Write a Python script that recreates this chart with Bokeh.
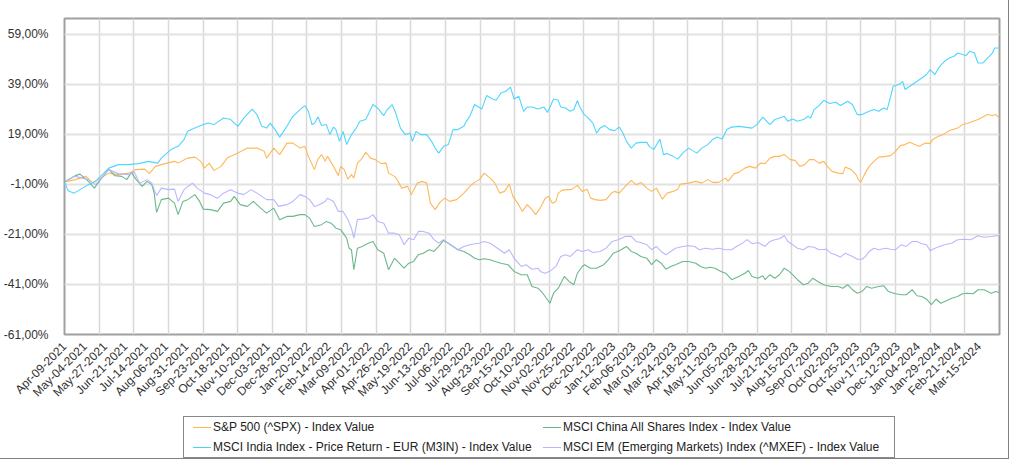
import html
import numpy as np
from bokeh.plotting import figure
from bokeh.layouts import column
from bokeh.models import Range1d, FixedTicker, Div
from bokeh.embed import file_html
from bokeh.resources import INLINE

# ---- data: (trading-day index from Apr-09-2021, % change) ----
SP500 = [(0,0),(9,0.9),(18,2.2),(23,-0.3),(29,1.1),(37,3.5),(45,2.9),(54,3.5),(59,4.9),(67,5.1),(71,3.3),(76,6.2),(84,7.3),(92,8.2),(95,7.5),(103,9.5),(109,9.9),(114,8.2),(117,5.5),(121,7.5),(125,4.6),(131,6.2),(136,9.5),(145,11.5),(153,13.5),(161,13.5),(167,12.2),(169,9.5),(175,13.5),(180,10.9),(186,15.5),(191,15.5),
(197,13.5),(201,14.2),(204,10.2),(209,4.9),(212,9.1),(215,10.9),(218,8.2),(220,10.2),(225,6.2),(229,2.5),(231,6.2),(234,4.9),(237,1.1),(240,2.9),(242,1.5),(245,7.5),(248,8.9),(252,11.8),(256,9.5),(260,8.9),(265,7.3),(269,7.5),(271,3.5),(276,2.2),(278,1.1),(282,-2.5),(287,-1.8),(290,-5.1),(295,-0.5),(299,0.2),(303,-0.5),(306,-8.5),(310,-11.1),(314,-8.2),(318,-6.5),(322,-7.8),(328,-7.1),(334,-4.5),(339,-1.8),(343,-0.2),(347,0.9),(351,3.5),(356,1.5),(360,-0.5),(364,-4.5),(368,-3.8),(372,-0.9),(375,-5.8),(379,-8.5),(383,-11.8),(387,-9.1),
(391,-11.1),(394,-13.1),(397,-11.1),(400,-8.5),(402,-6.5),(405,-5.8),(408,-8.5),(411,-7.8),(413,-4.5),(416,-3.4),(420,-3.1),(424,-3.1),(429,-1.4),(433,-3.8),(437,-2.9),(440,-6.5),(444,-7.1),(448,-7.4),(453,-7.1),(458,-4.2),(460,-3.8),(464,-4.5),(469,-1.8),(474,0.6),(478,-1.1),(482,-0.2),(487,-2.5),(491,-3.8),(495,-2.5),(500,-6.9),(504,-4.5),(509,-3.8),(513,-2.9),(515,-0.9),(522,-0.5),(528,0.2),(533,-0.5),(538,0.9),(542,-0.2),(547,-0.2),(553,1.5),(555,0.2),(560,3.3),(564,3.8),(569,5.5),(573,6.2),(578,5.5),(582,7.5),
(586,7.3),(590,9.5),(594,10.2),(598,10.2),(602,10.9),(607,8.9),(611,8.6),(615,6.2),(619,6.9),(623,8.9),(627,8.9),(631,7.5),(635,8.2),(638,6.2),(642,4.2),(647,3.5),(651,3.3),(653,5.9),(658,4.9),(662,2.9),(664,0.9),(666,-0.2),(669,2.9),(673,6.2),(677,8.2),(681,9.9),(687,10.2),(691,10.5),(695,12.2),(699,14.5),(703,14.9),(707,15.8),(711,14.9),(715,14.2),(720,15.5),(724,15.3),(726,16.9),(731,18.2),(735,18.9),(739,20.2),(743,20.9),(747,21.5),(751,22.9),(755,23.3),(760,24.2),(764,24.9),(768,25.9),(772,26.9),(776,26.5),(779,26.9),(782,25.5)]

CHINA = [(0,0),(9,2.5),(13,3.1),(20,0.2),(25,-2.5),(29,0.2),(37,5.1),(42,2.5),(48,2.2),(52,0.9),(56,3.8),(60,0.9),(65,-1.8),(69,0.2),(73,-1.1),(75,-4.5),(77,-12.2),(81,-7.1),(87,-6.5),(92,-8.5),(95,-13.1),(99,-7.8),(103,-7.1),(109,-5.1),(113,-7.8),(116,-10.9),(122,-11.1),(128,-11.8),(133,-8.5),(139,-7.8),(142,-5.8),(147,-9.1),(153,-9.8),(158,-7.8),(164,-10.5),(169,-12.5),(175,-10.5),(180,-15.1),(186,-13.8),(191,-13.8),
(197,-13.1),(201,-13.1),(205,-14.5),(209,-17.8),(215,-17.1),(219,-15.8),(223,-16.5),(227,-18.5),(231,-19.1),(236,-22.5),(238,-26.5),(240,-27.1),(242,-35.1),(245,-26.5),(249,-25.8),(254,-24.5),(258,-23.8),(262,-27.1),(267,-28.5),(271,-35.1),(276,-30.5),(280,-32.5),(284,-34.5),(288,-32.5),(292,-31.8),(296,-29.1),(300,-28.5),(305,-27.1),(309,-27.8),(313,-25.8),(317,-23.4),(321,-24.5),(325,-25.8),(329,-27.1),(334,-27.8),(339,-29.1),(343,-30.5),(347,-31.1),(351,-30.7),(356,-31.1),(360,-31.8),(365,-32.5),(371,-33.1),(376,-35.8),(382,-37.1),(387,-37.1),
(391,-41.8),(396,-42.5),(400,-44.5),(402,-45.8),(406,-48.5),(409,-44.5),(413,-42.5),(418,-37.8),(422,-39.8),(426,-41.1),(429,-36.5),(433,-33.8),(435,-33.1),(440,-34.5),(445,-34.5),(451,-33.1),(455,-31.1),(459,-28.5),(464,-27.5),(470,-25.8),(474,-27.8),(478,-28.5),(482,-29.8),(487,-30.5),(491,-33.1),(495,-31.1),(499,-32.5),(503,-34.9),(507,-33.8),(511,-33.1),(517,-31.8),(522,-31.8),(528,-32.5),(532,-33.8),(536,-34.5),(540,-34.1),(544,-34.5),(549,-35.8),(553,-36.5),(558,-39.1),(564,-37.8),(569,-36.5),(572,-35.4),(575,-37.8),(580,-38.5),(584,-37.5),
(586,-39.1),(590,-37.1),(594,-38.5),(598,-37.1),(602,-34.5),(605,-35.4),(609,-37.1),(613,-39.1),(618,-41.1),(622,-40.5),(626,-38.5),(630,-39.8),(635,-41.1),(641,-41.8),(647,-41.8),(651,-42.5),(655,-41.1),(659,-43.1),(663,-44.5),(667,-43.8),(671,-41.8),(675,-42.5),(681,-41.8),(685,-41.5),(689,-43.8),(695,-44.7),(700,-45.1),(704,-45.1),(709,-43.1),(713,-45.5),(717,-45.8),(721,-46.9),(725,-49.1),(729,-46.9),(733,-48.5),(738,-47.4),(742,-46.5),(747,-45.8),(751,-44.7),(755,-44.5),(760,-44.7),(764,-43.1),(769,-43.1),(775,-44.5),(779,-43.8),(782,-44.3)]

INDIA = [(0,0),(3,-3.5),(8,-4.5),(15,-2.5),(20,-1.1),(26,0.2),(37,5.5),(45,6.9),(53,6.9),(62,7.3),(70,8.2),(78,7.5),(81,9.5),(89,12.9),(95,14.2),(100,16.9),(103,20.2),(109,21.5),(114,22.5),(120,23.5),(125,22.9),(133,25.5),(139,24.9),(145,22.2),(150,25.5),(157,29.1),(161,26.9),(165,22.2),(169,21.5),(172,23.5),(176,20.9),(180,17.9),(186,22.2),(191,26.2),
(197,28.9),(201,30.5),(204,28.2),(207,22.9),(209,23.3),(212,25.9),(215,22.5),(219,22.9),(222,18.9),(225,21.9),(227,20.9),(230,16.2),(233,20.2),(236,14.9),(240,18.9),(244,21.5),(247,24.2),(252,24.9),(258,30.9),(262,29.5),(267,26.5),(270,28.9),(274,30.9),(277,27.5),(281,21.5),(285,18.9),(289,19.5),(291,16.2),(294,20.2),(298,18.9),(303,18.9),(307,16.2),(310,13.5),(313,11.5),(317,14.2),(321,14.9),(325,20.9),(329,20.9),(334,22.2),(336,24.2),(339,26.2),(343,30.9),(349,29.1),(353,34.5),(358,33.1),(361,32.6),(365,35.5),(369,36.2),(373,37.9),(376,33.1),(380,34.2),(384,28.2),(387,29.9),
(391,29.9),(396,29.1),(401,29.9),(404,27.8),(407,30.9),(409,33.1),(413,32.6),(415,29.9),(419,29.5),(423,28.2),(426,28.9),(429,32.5),(431,29.9),(434,27.3),(438,25.5),(442,23.5),(445,19.5),(448,21.5),(452,22.5),(456,20.9),(460,20.5),(464,21.9),(467,19.5),(470,16.2),(474,13.5),(478,15.5),(482,15.8),(487,15.8),(489,14.2),(493,12.9),(496,15.5),(498,17.1),(501,10.9),(504,11.3),(509,10.2),(513,9.1),(517,11.5),(522,13.5),(525,12.6),(529,11.5),(533,13.5),(538,14.9),(542,16.9),(546,17.9),(550,17.1),(554,20.9),(558,21.9),(564,22.2),(569,21.9),(575,21.5),(579,22.9),(584,25.9),
(586,24.9),(590,22.9),(594,24.9),(598,25.5),(602,26.2),(605,24.2),(609,25.1),(613,24.2),(618,24.9),(622,26.2),(624,25.5),(627,28.9),(631,30.5),(635,32.6),(640,31.3),(645,31.8),(649,30.5),(655,32.2),(659,30.9),(663,26.9),(667,26.9),(673,28.2),(677,28.9),(681,28.2),(685,29.5),(688,28.9),(691,34.2),(693,38.2),(698,38.9),(701,40.2),(703,36.9),(707,38.2),(711,39.5),(717,41.5),(721,42.9),(724,44.9),(728,42.9),(732,46.2),(736,48.2),(740,49.5),(744,50.2),(747,51.5),(751,50.9),(754,50.5),(757,52.2),(761,51.5),(764,47.5),(768,47.5),(772,49.5),(776,51.5),(778,53.5),(782,53.5)]

EM = [(0,0),(9,2.2),(20,0.9),(26,-1.1),(37,4.9),(45,3.3),(54,2.9),(58,4.2),(63,-0.5),(69,0.9),(73,-0.5),(77,-5.5),(81,-2.5),(87,-3.1),(92,-2.9),(95,-7.8),(100,-3.1),(107,-0.5),(111,-2.5),(117,-4.5),(122,-5.1),(128,-6.5),(133,-4.5),(139,-3.1),(145,-4.5),(150,-5.1),(156,-3.1),(161,-4.5),(169,-7.1),(175,-7.1),(179,-9.8),(186,-9.1),(191,-7.8),
(197,-5.1),(201,-5.8),(205,-7.1),(209,-9.8),(213,-9.1),(218,-7.8),(220,-6.5),(225,-7.8),(229,-11.8),(233,-11.8),(237,-15.1),(240,-18.5),(242,-22.5),(245,-15.1),(249,-14.9),(254,-14.5),(258,-13.1),(262,-15.8),(267,-16.5),(271,-20.5),(276,-20.5),(280,-21.1),(284,-25.1),(288,-22.5),(292,-23.1),(296,-19.8),(300,-19.8),(305,-20.5),(309,-23.1),(313,-24.5),(317,-23.1),(321,-24.5),(325,-25.8),(329,-27.1),(334,-25.8),(339,-25.1),(343,-24.7),(347,-24.5),(351,-23.8),(356,-24.5),(360,-25.8),(364,-27.1),(368,-28.5),(372,-27.1),(376,-30.5),(382,-33.8),(386,-33.1),
(391,-34.9),(396,-34.5),(398,-35.8),(402,-36.5),(407,-35.4),(411,-33.8),(415,-29.8),(419,-29.1),(423,-29.8),(429,-27.1),(433,-27.8),(438,-27.1),(442,-28.2),(448,-27.8),(453,-26.5),(458,-23.8),(463,-23.1),(469,-21.8),(474,-21.8),(478,-23.8),(482,-24.2),(487,-25.1),(491,-27.1),(495,-25.8),(499,-27.8),(503,-29.1),(507,-27.8),(511,-26.5),(517,-25.8),(522,-25.5),(527,-25.8),(531,-27.1),(536,-26.5),(542,-26.9),(547,-26.5),(553,-27.1),(558,-27.1),(562,-25.8),(567,-24.5),(571,-23.1),(575,-24.7),(580,-24.2),
(586,-25.8),(590,-23.8),(594,-23.1),(598,-22.7),(602,-21.5),(605,-23.8),(609,-25.1),(613,-26.5),(618,-27.1),(622,-25.8),(627,-26.1),(631,-27.1),(637,-26.9),(641,-28.5),(645,-29.1),(649,-30.1),(653,-28.5),(659,-29.8),(663,-30.9),(667,-30.9),(670,-29.8),(673,-27.8),(677,-26.5),(681,-27.1),(687,-26.5),(691,-26.9),(695,-27.1),(700,-25.1),(704,-25.8),(709,-23.8),(713,-23.8),(717,-24.7),(721,-25.1),(724,-27.5),(728,-26.5),(732,-25.8),(736,-25.1),(742,-24.5),(747,-23.1),(753,-22.9),(758,-23.1),(764,-21.5),(769,-22.1),(775,-21.8),(780,-21.5),(782,-21.5)]

SERIES_NAMES = ["S&P 500 (^SPX) - Index Value",
                "MSCI China All Shares Index - Index Value",
                "MSCI India Index - Price Return - EUR (M3IN) - Index Value",
                "MSCI EM (Emerging Markets) Index (^MXEF) - Index Value"]

X_LABELS = ["Apr-09-2021","May-04-2021","May-27-2021","Jun-21-2021","Jul-14-2021","Aug-06-2021",
            "Aug-31-2021","Sep-23-2021","Oct-18-2021","Nov-10-2021","Dec-03-2021","Dec-28-2021",
            "Jan-20-2022","Feb-14-2022","Mar-09-2022","Apr-01-2022","Apr-26-2022","May-19-2022",
            "Jun-13-2022","Jul-06-2022","Jul-29-2022","Aug-23-2022","Sep-15-2022","Oct-10-2022",
            "Nov-02-2022","Nov-25-2022","Dec-20-2022","Jan-12-2023","Feb-06-2023","Mar-01-2023",
            "Mar-24-2023","Apr-18-2023","May-11-2023","Jun-05-2023","Jun-28-2023","Jul-21-2023",
            "Aug-15-2023","Sep-07-2023","Oct-02-2023","Oct-25-2023","Nov-17-2023","Dec-12-2023",
            "Jan-04-2024","Jan-29-2024","Feb-21-2024","Mar-15-2024"]
LABEL_STEP = 17          # trading days between x labels
LAST_DAY = 782           # Apr-09-2024

Y_TICKS = [-61, -41, -21, -1, 19, 39, 59]
Y_LABELS = ["-61,00%", "-41,00%", "-21,00%", "-1,00%", "19,00%", "39,00%", "59,00%"]

COLORS = ["#ffb44f", "#64b487", "#45d4ff", "#b4b4ff"]

FONT = "Liberation Sans"

# ---------------- main chart ----------------
p = figure(width=1008, height=408, output_backend="svg", toolbar_location=None,
           x_range=Range1d(0, LAST_DAY), y_range=Range1d(-61, 65.3),
           min_border_left=54, min_border_right=9, min_border_top=18, min_border_bottom=74,
           background_fill_color="white", border_fill_color="white")

for data, col in zip([SP500, CHINA, INDIA, EM], COLORS):
    xs, ys = zip(*data)
    p.line(list(xs), list(ys), line_color=col, line_width=1.1, line_alpha=0.95)

tick_pos = [LABEL_STEP * k for k in range(len(X_LABELS))]
p.xaxis.ticker = FixedTicker(ticks=tick_pos)
p.xaxis.major_label_overrides = {t: lab for t, lab in zip(tick_pos, X_LABELS)}
p.xaxis.major_label_orientation = np.pi / 4
p.yaxis.ticker = FixedTicker(ticks=Y_TICKS)
p.yaxis.major_label_overrides = {t: lab for t, lab in zip(Y_TICKS, Y_LABELS)}
for ax in (p.xaxis, p.yaxis):
    ax.axis_line_color = None
    ax.major_tick_line_color = None
    ax.minor_tick_line_color = None
    ax.major_label_text_font = FONT
    ax.major_label_text_color = "#333333"
    ax.major_label_text_font_size = "12px"
p.xaxis.major_label_standoff = 4
p.yaxis.major_label_standoff = 10

p.xgrid.ticker = FixedTicker(ticks=list(np.linspace(0, LAST_DAY, 28)))
p.xgrid.grid_line_color = "#d8d8d8"
p.xgrid.grid_line_width = 1.5
p.ygrid.ticker = FixedTicker(ticks=Y_TICKS)
p.ygrid.grid_line_color = "#e2e2e2"
p.ygrid.grid_line_width = 2

p.outline_line_color = "#a0a0a0"
p.outline_line_width = 2

# ---------------- legend (two rows x two columns, in a box) ----------------
def item(name, color):
    return ('<div style="width:350px;display:flex;align-items:center;height:20px;">'
            f'<span style="display:inline-block;width:18px;height:1px;background:{color};'
            'margin-right:2px;flex:none;"></span>'
            f'<span style="white-space:nowrap;">{html.escape(name)}</span></div>')

rows = []
for a, b in [(0, 1), (2, 3)]:
    rows.append('<div style="display:flex;">' + item(SERIES_NAMES[a], COLORS[a])
                + item(SERIES_NAMES[b], COLORS[b]) + '</div>')

legend_html = ('<div style="position:relative;left:183px;top:8px;width:712px;height:42px;'
               'box-sizing:border-box;border:1px solid #888888;padding:0 0 0 9px;background:white;'
               "font-family:'Liberation Sans',Arial,sans-serif;font-size:12px;line-height:20px;"
               'color:#222222;">' + ''.join(rows) + '</div>')

legend_div = Div(text=legend_html, width=1008, height=50,
                 styles={"margin": "0", "padding": "0"})

layout = column(p, legend_div, spacing=0)
layout.styles = {"outline": "1px solid #808080"}

open("out.html", "w").write(file_html(layout, INLINE))
